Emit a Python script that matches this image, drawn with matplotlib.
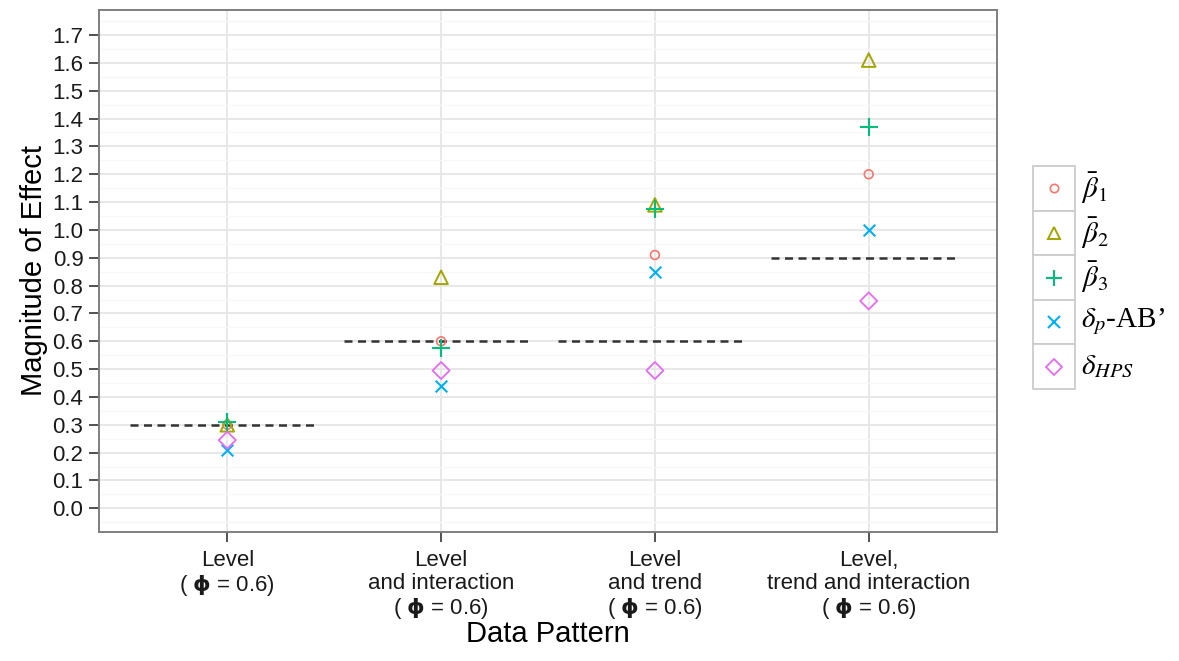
import matplotlib
matplotlib.use("Agg")
import matplotlib.pyplot as plt
from matplotlib.ticker import MultipleLocator
import numpy as np

# Data patterns on the x axis
patterns = [
    "Level\n( $\\mathbf{\\phi}$ = 0.6)",
    "Level\nand interaction\n( $\\mathbf{\\phi}$ = 0.6)",
    "Level\nand trend\n( $\\mathbf{\\phi}$ = 0.6)",
    "Level,\ntrend and interaction\n( $\\mathbf{\\phi}$ = 0.6)",
]

# Effect-size estimates per pattern
beta1 = [0.30, 0.60, 0.91, 1.20]
beta2 = [0.30, 0.83, 1.09, 1.61]
beta3 = [0.31, 0.575, 1.075, 1.37]
delta_p_ab = [0.21, 0.44, 0.85, 1.00]
delta_hps = [0.245, 0.495, 0.495, 0.745]

# True effect (dashed reference lines)
true_effect = [0.3, 0.6, 0.6, 0.9]

labels = [r"$\bar{\beta}_1$", r"$\bar{\beta}_2$", r"$\bar{\beta}_3$",
          r"$\delta_p$-AB’", r"$\delta_{HPS}$"]
colors = ["#F8766D", "#A3A500", "#00BF7D", "#00B0F6", "#E76BF3"]

plt.rcParams["font.family"] = ["Liberation Sans", "DejaVu Sans"]
plt.rcParams["mathtext.fontset"] = "custom"
plt.rcParams["mathtext.rm"] = "Liberation Sans"
plt.rcParams["mathtext.bf"] = "DejaVu Sans:bold"

fig = plt.figure(figsize=(11.79, 6.61), dpi=100)
ax = fig.add_axes([99 / 1179, 1 - 532 / 661, (997 - 99) / 1179, (532 - 10) / 661])

x = np.arange(1, len(patterns) + 1)

# reference segments
for xi, t in zip(x, true_effect):
    ax.plot([xi - 0.455, xi + 0.42], [t, t], ls=(0, (3.2, 2.2)), color="#333333",
            lw=1.8, zorder=2)

series = [beta1, beta2, beta3, delta_p_ab, delta_hps]
styles = [
    dict(marker="o", s=40, lw=1.2),
    dict(marker="^", s=95, lw=1.4),
    dict(marker="+", s=150, lw=1.5),
    dict(marker="x", s=70, lw=1.5),
    dict(marker="D", s=75, lw=1.3),
]
for vals, col, st in zip(series, colors, styles):
    if st["marker"] in ("+", "x"):
        ax.scatter(x, vals, marker=st["marker"], s=st["s"], color=col,
                   linewidths=st["lw"], zorder=3)
    else:
        ax.scatter(x, vals, marker=st["marker"], s=st["s"], facecolors="none",
                   edgecolors=col, linewidths=st["lw"], zorder=3)

ax.set_xlim(0.4, 4.6)
ax.set_ylim(-0.085, 1.79)
ax.set_xticks(x)
ax.set_xticklabels(patterns, fontsize=16, linespacing=1.12)
ax.yaxis.set_minor_locator(MultipleLocator(0.05))
yt = np.round(np.arange(0, 1.71, 0.1), 1)
ax.set_yticks(yt)
ax.set_yticklabels([f"{v:.1f}" for v in yt], fontsize=16)
ax.tick_params(axis="both", which="major", length=7.2, width=1.2, color="#333333",
               labelcolor="#1a1a1a")
ax.tick_params(axis="x", which="major", pad=6)
ax.tick_params(axis="y", which="major", pad=4)
ax.tick_params(axis="y", which="minor", length=0)

ax.grid(True, which="major", color="#e6e6e6", lw=1.3, zorder=0)
ax.grid(True, which="minor", axis="y", color="#f7f7f7", lw=1.0, zorder=0)
ax.set_axisbelow(True)
for sp in ax.spines.values():
    sp.set_color("#7f7f7f")
    sp.set_linewidth(1.4)

ax.set_ylabel("Magnitude of Effect", fontsize=21, labelpad=3)
ax.set_xlabel("Data Pattern", fontsize=21, labelpad=-1)

# legend with framed keys
leg_ax = fig.add_axes([1033 / 1179, 1 - 389 / 661, 42 / 1179, (389 - 166) / 661])
leg_ax.set_xlim(0, 1)
leg_ax.set_ylim(0, len(labels))
leg_ax.axis("off")
for i, (lab, col, st) in enumerate(zip(labels, colors, styles)):
    yc = len(labels) - i - 0.5
    leg_ax.add_patch(plt.Rectangle((0, yc - 0.5), 1, 1, facecolor="white",
                                   edgecolor="#cccccc", lw=1.3, clip_on=False))
    ms = np.sqrt(st["s"]) * 0.95
    if st["marker"] in ("+", "x"):
        leg_ax.plot([0.5], [yc], marker=st["marker"], color=col, ls="none",
                    markersize=ms, markeredgewidth=st["lw"])
    else:
        leg_ax.plot([0.5], [yc], marker=st["marker"], markerfacecolor="none",
                    markeredgecolor=col, ls="none", markersize=ms,
                    markeredgewidth=st["lw"])
    leg_ax.text(1.15, yc, lab, fontsize=21, va="center", ha="left",
                family=["Liberation Serif", "DejaVu Serif"],
                math_fontfamily="stix", clip_on=False)

fig.savefig("out.png", dpi=100)
